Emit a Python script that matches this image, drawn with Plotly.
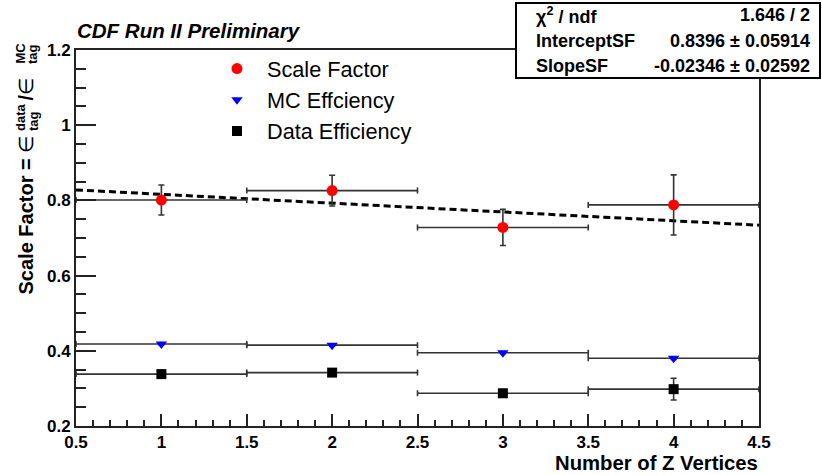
import plotly.graph_objects as go

# ---- data ----
bin_centers = [1, 2, 3, 4]
bin_half_width = [0.5, 0.5, 0.5, 0.5]

sf_values = [0.801, 0.826, 0.728, 0.788]
sf_errors = [0.040, 0.041, 0.048, 0.080]

mc_values = [0.418, 0.415, 0.395, 0.380]
mc_errors = [0.003, 0.003, 0.003, 0.003]

data_values = [0.338, 0.342, 0.287, 0.298]
data_errors = [0.006, 0.006, 0.010, 0.029]

fit_intercept = 0.8396
fit_slope = -0.02346
fit_range = [0.5, 4.5]

x_ticks = [0.5, 1, 1.5, 2, 2.5, 3, 3.5, 4, 4.5]
y_ticks = [0.2, 0.4, 0.6, 0.8, 1.0, 1.2]

stats_rows = [
    ("χ</b><sup><b>2</b></sup><b> / ndf", "1.646 / 2"),
    ("InterceptSF", "0.8396 ± 0.05914"),
    ("SlopeSF", "-0.02346 ± 0.02592"),
]

FONT = "Liberation Sans, Arial, Helvetica, sans-serif"
W, H = 822, 475
L, R, T, B = 76, 63, 50, 49
PW, PH = W - L - R, H - T - B


def px_x(px):
    return (px - L) / PW


def px_y(py):
    return 1 - (py - T) / PH


fig = go.Figure()

err_col = "#333333"

# fit line
fit_x = fit_range
fit_y = [fit_intercept + fit_slope * x for x in fit_x]
fig.add_trace(go.Scatter(x=fit_x, y=fit_y, mode="lines",
                         line=dict(color="black", width=3, dash="7px,4px"),
                         showlegend=False, hoverinfo="skip"))

def add_series(name, vals, errs, color, symbol, size, group):
    fig.add_trace(go.Scatter(
        x=bin_centers, y=vals, mode="markers", name=name,
        legendgroup=group,
        marker=dict(color=color, symbol=symbol, size=size, line=dict(width=0)),
        error_x=dict(type="data", array=bin_half_width, color=err_col,
                     thickness=1.6, width=3),
        error_y=dict(type="data", array=errs, color=err_col,
                     thickness=1.6, width=3),
    ))

add_series("Scale Factor", sf_values, sf_errors, "#ff0000", "circle", 11, "g1")
add_series("MC Effciency", mc_values, mc_errors, "#0000ff", "triangle-down", 10, "g2")
add_series("Data Efficiency", data_values, data_errors, "#000000", "square", 10, "g3")

annotations = []

# title
annotations.append(dict(text="<b><i>CDF Run II Preliminary</i></b>",
                        xref="paper", yref="paper", x=px_x(75), y=px_y(30),
                        xanchor="left", yanchor="middle", showarrow=False,
                        font=dict(family=FONT, size=20.5, color="black")))

# x axis title
annotations.append(dict(text="<b>Number of Z Vertices</b>",
                        xref="paper", yref="paper", x=px_x(760), y=px_y(463),
                        xanchor="right", yanchor="middle", showarrow=False,
                        font=dict(family=FONT, size=20.3, color="black")))

# y axis title (pieces for stacked super/subscripts)
def yt(text, xpx, ypx, size):
    annotations.append(dict(text=text, xref="paper", yref="paper",
                            x=px_x(xpx), y=px_y(ypx), xanchor="center",
                            yanchor="bottom", textangle=-90, showarrow=False,
                            font=dict(family=FONT, size=size, color="black")))

yt("<b>Scale Factor =</b> ∈", 25, 297, 20)
yt("<b>data</b>", 20, 133, 13)
yt("<b>tag</b>", 33, 133, 13)
yt("<b>/</b>∈", 25, 103, 20)
yt("<b>MC</b>", 20, 66, 13)
yt("<b>tag</b>", 33, 66, 13)

# stats box text
row_y = [15, 41, 66]
for (lab, val), ry in zip(stats_rows, row_y):
    annotations.append(dict(text="<b>" + lab + "</b>", xref="paper", yref="paper",
                            x=px_x(534), y=px_y(ry), xanchor="left", yanchor="middle",
                            showarrow=False, font=dict(family=FONT, size=18, color="black")))
    annotations.append(dict(text="<b>" + val + "</b>", xref="paper", yref="paper",
                            x=px_x(812), y=px_y(ry), xanchor="right", yanchor="middle",
                            showarrow=False, font=dict(family=FONT, size=18, color="black")))

shapes = [dict(type="rect", xref="paper", yref="paper",
               x0=px_x(516), x1=px_x(820), y0=px_y(78), y1=px_y(3),
               line=dict(color="black", width=2), fillcolor="white", layer="above")]

fig.update_layout(
    width=W, height=H,
    margin=dict(l=L, r=R, t=T, b=B),
    paper_bgcolor="white", plot_bgcolor="white",
    font=dict(family=FONT, color="black"),
    showlegend=True,
    legend=dict(x=px_x(207), y=px_y(48), xanchor="left", yanchor="top",
                bgcolor="rgba(0,0,0,0)", borderwidth=0,
                font=dict(family=FONT, size=21.7, color="black"),
                tracegroupgap=0, itemwidth=50),
    annotations=annotations,
    shapes=shapes,
    xaxis=dict(range=[0.5, 4.5], tickvals=x_ticks,
               ticktext=[("<b>%g</b>" % v) for v in x_ticks],
               ticks="inside", ticklen=12, tickwidth=1.5, tickcolor="#222",
               minor=dict(dtick=0.1, tick0=0.5, ticks="inside", ticklen=6,
                          tickwidth=1.5, tickcolor="#222"),
               showline=True, linecolor="#222", linewidth=2, mirror=True,
               showgrid=False, zeroline=False,
               tickfont=dict(family=FONT, size=17, color="black")),
    yaxis=dict(range=[0.2, 1.2], tickvals=y_ticks,
               ticktext=[("<b>%g</b>" % v) for v in y_ticks],
               ticks="inside", ticklen=20, tickwidth=1.5, tickcolor="#222",
               minor=dict(dtick=0.05, tick0=0.2, ticks="inside", ticklen=10,
                          tickwidth=1.5, tickcolor="#222"),
               showline=True, linecolor="#222", linewidth=2, mirror=True,
               showgrid=False, zeroline=False,
               tickfont=dict(family=FONT, size=17, color="black")),
)

fig.write_html("out.html")
